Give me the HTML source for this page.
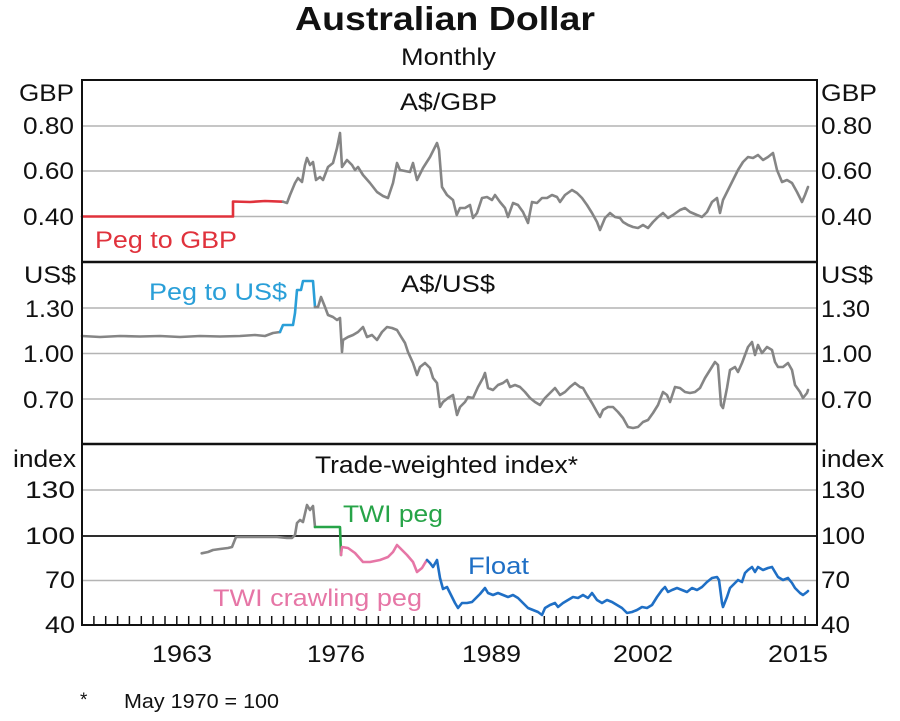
<!DOCTYPE html>
<html><head><meta charset="utf-8"><style>
html,body{margin:0;padding:0;background:#fff;}
svg{display:block;}
text{font-family:"Liberation Sans",Arial,sans-serif;fill:#111;}
</style></head><body>
<svg width="900" height="721" viewBox="0 0 900 721" xmlns="http://www.w3.org/2000/svg">
<rect x="0" y="0" width="900" height="721" fill="#fff"/>
<!-- gridlines -->
<g stroke="#b4b4b4" stroke-width="1.5">
<line x1="82" y1="126" x2="817" y2="126"/>
<line x1="82" y1="171" x2="817" y2="171"/>
<line x1="82" y1="216.5" x2="817" y2="216.5"/>
<line x1="82" y1="308" x2="817" y2="308"/>
<line x1="82" y1="353.5" x2="817" y2="353.5"/>
<line x1="82" y1="399" x2="817" y2="399"/>
<line x1="82" y1="490" x2="817" y2="490"/>
<line x1="82" y1="580.5" x2="817" y2="580.5"/>
</g>
<line x1="82" y1="536" x2="817" y2="536" stroke="#111" stroke-width="1.8"/>
<!-- ticks -->
<g stroke="#111" stroke-width="1.5" id="ticks">
<line x1="93.9" y1="616" x2="93.9" y2="625"/><line x1="105.7" y1="616" x2="105.7" y2="625"/><line x1="117.6" y1="616" x2="117.6" y2="625"/><line x1="129.4" y1="616" x2="129.4" y2="625"/><line x1="141.3" y1="616" x2="141.3" y2="625"/><line x1="153.1" y1="616" x2="153.1" y2="625"/><line x1="165" y1="616" x2="165" y2="625"/><line x1="176.8" y1="616" x2="176.8" y2="625"/><line x1="188.7" y1="616" x2="188.7" y2="625"/><line x1="200.5" y1="616" x2="200.5" y2="625"/><line x1="212.4" y1="616" x2="212.4" y2="625"/><line x1="224.3" y1="616" x2="224.3" y2="625"/><line x1="236.1" y1="616" x2="236.1" y2="625"/><line x1="248" y1="616" x2="248" y2="625"/><line x1="259.8" y1="616" x2="259.8" y2="625"/><line x1="271.7" y1="616" x2="271.7" y2="625"/><line x1="283.5" y1="616" x2="283.5" y2="625"/><line x1="295.4" y1="616" x2="295.4" y2="625"/><line x1="307.2" y1="616" x2="307.2" y2="625"/><line x1="319.1" y1="616" x2="319.1" y2="625"/><line x1="331" y1="616" x2="331" y2="625"/><line x1="342.8" y1="616" x2="342.8" y2="625"/><line x1="354.7" y1="616" x2="354.7" y2="625"/><line x1="366.5" y1="616" x2="366.5" y2="625"/><line x1="378.4" y1="616" x2="378.4" y2="625"/><line x1="390.2" y1="616" x2="390.2" y2="625"/><line x1="402.1" y1="616" x2="402.1" y2="625"/><line x1="413.9" y1="616" x2="413.9" y2="625"/><line x1="425.8" y1="616" x2="425.8" y2="625"/><line x1="437.6" y1="616" x2="437.6" y2="625"/><line x1="449.5" y1="616" x2="449.5" y2="625"/><line x1="461.4" y1="616" x2="461.4" y2="625"/><line x1="473.2" y1="616" x2="473.2" y2="625"/><line x1="485.1" y1="616" x2="485.1" y2="625"/><line x1="496.9" y1="616" x2="496.9" y2="625"/><line x1="508.8" y1="616" x2="508.8" y2="625"/><line x1="520.6" y1="616" x2="520.6" y2="625"/><line x1="532.5" y1="616" x2="532.5" y2="625"/><line x1="544.3" y1="616" x2="544.3" y2="625"/><line x1="556.2" y1="616" x2="556.2" y2="625"/><line x1="568" y1="616" x2="568" y2="625"/><line x1="579.9" y1="616" x2="579.9" y2="625"/><line x1="591.8" y1="616" x2="591.8" y2="625"/><line x1="603.6" y1="616" x2="603.6" y2="625"/><line x1="615.5" y1="616" x2="615.5" y2="625"/><line x1="627.3" y1="616" x2="627.3" y2="625"/><line x1="639.2" y1="616" x2="639.2" y2="625"/><line x1="651" y1="616" x2="651" y2="625"/><line x1="662.9" y1="616" x2="662.9" y2="625"/><line x1="674.7" y1="616" x2="674.7" y2="625"/><line x1="686.6" y1="616" x2="686.6" y2="625"/><line x1="698.4" y1="616" x2="698.4" y2="625"/><line x1="710.3" y1="616" x2="710.3" y2="625"/><line x1="722.2" y1="616" x2="722.2" y2="625"/><line x1="734" y1="616" x2="734" y2="625"/><line x1="745.9" y1="616" x2="745.9" y2="625"/><line x1="757.7" y1="616" x2="757.7" y2="625"/><line x1="769.6" y1="616" x2="769.6" y2="625"/><line x1="781.4" y1="616" x2="781.4" y2="625"/><line x1="793.3" y1="616" x2="793.3" y2="625"/><line x1="805.1" y1="616" x2="805.1" y2="625"/>
</g>
<!-- series -->
<g fill="none" stroke-width="2.6" stroke-linejoin="round" stroke-linecap="round">
<!-- panel 1 -->
<polyline stroke="#e0323c" points="82,216.5 233,216.5 233,201.5 250,202 265,201 283,201.7"/>
<polyline stroke="#858585" points="283,201.7 287,203 290,195 295,183 298,178 302,182 305,165 307,158 310,165 313,162 316,180 320,177 323,180 328,167 333,163 337,148 340,133 342,167 347,160 352,165 355,170 358,167 363,175 370,183 377,192 383,196 388,198 393,183 397,163 400,170 410,172 413,163 417,180 423,168 430,157 435,147 437,143 439,150 442,187 447,195 453,200 456.7,215 460,208 465,208 470,205 473,218 477,213 482,198 487,197 492,200 495,195 500,202 505,208 508,217 513,203 518,205 523,212 528,223 532,202 537,203 542,198 547,198 552,195 557,197 560,202 565,195 572,190 577,193 582,198 587,205 592,213 597,222 600,230 605,218 610,213 615,217 620,218 623,222 628,225 633,227 638,228 643,225 648,228 653,222 658,217 663,213 668,218 673,215 680,210 685,208 690,212 697,215 702,217 707,212 712,202 717,198 720,213 723,200 728,190 733,180 738,170 743,162 748,157 753,158 758,155 763,160 768,157 773,153 777,170 782,182 787,180 792,183 797,192 802,202 805,195 808,187"/>
<!-- panel 2 -->
<polyline stroke="#858585" points="82,336 100,337 120,336 140,336.5 160,336 180,337 200,336 220,336.5 240,336 255,335 265,336 273,333 280,332"/>
<polyline stroke="#2a9fd8" points="280,332 283,325 293,325 295,313 297,290 301,290 303,281 313,281 315,307"/>
<polyline stroke="#858585" points="315,307 318,307 321,297 325,307 328,315 333,317 337,320 340,318 342,352 343,340 348,337 353,335 358,332 363,327 367,337 372,335 377,340 382,332 387,327 392,328 397,330 400,335 405,343 408,352 413,363 417,375 420,367 425,363 430,368 433,378 437,383 440,407 443,402 448,398 453,395 457,415 460,407 465,402 468,397 473,398 478,387 483,378 485,373 488,388 493,390 498,385 503,383 507,380 510,387 515,385 520,387 525,392 530,398 535,402 540,405 545,398 550,393 555,388 560,395 565,392 570,387 575,383 580,387 583,388 587,395 592,403 597,412 600,417 603,410 608,407 613,407 618,412 623,418 628,427 633,428 638,427 643,422 648,420 653,413 658,405 663,392 667,395 670,402 675,387 680,388 685,392 690,393 695,392 700,388 705,378 710,370 715,362 718,365 721,405 723,408 727,388 730,370 735,367 738,372 742,363 745,355 748,347 752,342 755,355 758,345 762,353 767,347 772,350 775,362 778,367 783,367 788,363 792,370 795,385 800,392 803,398 807,393 808,390"/>
<!-- panel 3 -->
<polyline stroke="#858585" points="201.7,553.3 208,552 213,550 220,549 228,548 232,547 236,537 247,537 257,537 267,537 277,537 287,538 292,538 295,535 297,523 300,520 303,522 307,505 310,510 313,506 315,527"/>
<polyline stroke="#27a448" points="315,527 340,527 341,555"/>
<polyline stroke="#e676a6" points="341,555 342,547 348,548 355,553 363,562 370,562 380,560 388,557 393,552 397,545 402,550 407,555 413,562 417,572 422,568 425,563 427,560"/>
<polyline stroke="#1f6fc5" points="427,560 430,563 433,567 437,560 440,578 443,589 447,587 450,593 455,603 458,608 462,603 467,603 472,602 475,599 480,594 485,588 488,593 493,595 498,593 503,595 508,597 513,595 518,598 523,603 528,608 533,610 538,612 542,615 545,608 550,605 555,603 558,607 563,603 568,600 573,597 578,598 583,595 588,598 592,593 597,600 602,603 607,600 612,602 617,605 622,608 627,613 632,612 637,610 642,607 647,608 652,605 657,597 662,590 665,587 668,592 672,590 677,588 682,590 687,592 692,588 697,590 702,587 707,582 712,578 717,577 719,580 722,603 723,607 727,597 730,588 735,583 738,580 742,582 745,573 748,570 752,567 755,572 758,567 763,570 768,568 772,567 775,572 778,577 783,580 788,578 792,583 795,588 800,593 803,595 807,592 808,591"/>
</g>
<!-- frame -->
<rect x="82" y="80" width="735" height="545" fill="none" stroke="#111" stroke-width="2"/>
<line x1="82" y1="262" x2="817" y2="262" stroke="#111" stroke-width="2.5"/>
<line x1="82" y1="444" x2="817" y2="444" stroke="#111" stroke-width="2.5"/>

<!-- texts -->
<text x="295" y="30" font-size="33" font-weight="bold" textLength="300" lengthAdjust="spacingAndGlyphs">Australian Dollar</text>
<text x="401" y="65" font-size="24" textLength="95" lengthAdjust="spacingAndGlyphs">Monthly</text>

<g font-size="24">
<text x="19" y="101" textLength="55" lengthAdjust="spacingAndGlyphs">GBP</text>
<text x="74" y="134" text-anchor="end" textLength="51" lengthAdjust="spacingAndGlyphs">0.80</text>
<text x="74" y="179" text-anchor="end" textLength="51" lengthAdjust="spacingAndGlyphs">0.60</text>
<text x="74" y="225" text-anchor="end" textLength="51" lengthAdjust="spacingAndGlyphs">0.40</text>
<text x="821" y="101" textLength="56" lengthAdjust="spacingAndGlyphs">GBP</text>
<text x="821" y="134" textLength="51" lengthAdjust="spacingAndGlyphs">0.80</text>
<text x="821" y="179" textLength="51" lengthAdjust="spacingAndGlyphs">0.60</text>
<text x="821" y="225" textLength="51" lengthAdjust="spacingAndGlyphs">0.40</text>
<text x="400" y="110" textLength="97" lengthAdjust="spacingAndGlyphs">A$/GBP</text>
<text x="95" y="248" textLength="142" lengthAdjust="spacingAndGlyphs" style="fill:#e0323c">Peg to GBP</text>

<text x="24" y="283" textLength="52" lengthAdjust="spacingAndGlyphs">US$</text>
<text x="74" y="317" text-anchor="end" textLength="49" lengthAdjust="spacingAndGlyphs">1.30</text>
<text x="74" y="362" text-anchor="end" textLength="51" lengthAdjust="spacingAndGlyphs">1.00</text>
<text x="74" y="408" text-anchor="end" textLength="51" lengthAdjust="spacingAndGlyphs">0.70</text>
<text x="821" y="283" textLength="52" lengthAdjust="spacingAndGlyphs">US$</text>
<text x="821" y="317" textLength="49" lengthAdjust="spacingAndGlyphs">1.30</text>
<text x="821" y="362" textLength="51" lengthAdjust="spacingAndGlyphs">1.00</text>
<text x="821" y="408" textLength="51" lengthAdjust="spacingAndGlyphs">0.70</text>
<text x="401" y="292" textLength="94" lengthAdjust="spacingAndGlyphs">A$/US$</text>
<text x="149" y="300" textLength="138" lengthAdjust="spacingAndGlyphs" style="fill:#2a9fd8">Peg to US$</text>

<text x="13" y="467" textLength="63" lengthAdjust="spacingAndGlyphs">index</text>
<text x="75" y="498" text-anchor="end" textLength="50" lengthAdjust="spacingAndGlyphs">130</text>
<text x="75" y="544" text-anchor="end" textLength="50" lengthAdjust="spacingAndGlyphs">100</text>
<text x="75" y="588" text-anchor="end" textLength="30" lengthAdjust="spacingAndGlyphs">70</text>
<text x="75" y="633" text-anchor="end" textLength="30" lengthAdjust="spacingAndGlyphs">40</text>
<text x="821" y="467" textLength="63" lengthAdjust="spacingAndGlyphs">index</text>
<text x="821" y="498" textLength="44" lengthAdjust="spacingAndGlyphs">130</text>
<text x="821" y="544" textLength="44" lengthAdjust="spacingAndGlyphs">100</text>
<text x="821" y="588" textLength="29" lengthAdjust="spacingAndGlyphs">70</text>
<text x="821" y="633" textLength="29" lengthAdjust="spacingAndGlyphs">40</text>
<text x="315" y="473" textLength="263" lengthAdjust="spacingAndGlyphs">Trade-weighted index*</text>
<text x="343" y="522" textLength="100" lengthAdjust="spacingAndGlyphs" style="fill:#27a448">TWI peg</text>
<text x="213" y="606" textLength="209" lengthAdjust="spacingAndGlyphs" style="fill:#e676a6">TWI crawling peg</text>
<text x="468" y="574" textLength="61" lengthAdjust="spacingAndGlyphs" style="fill:#1f6fc5">Float</text>

<text x="152" y="662" textLength="60" lengthAdjust="spacingAndGlyphs">1963</text>
<text x="307" y="662" textLength="58" lengthAdjust="spacingAndGlyphs">1976</text>
<text x="462" y="662" textLength="59" lengthAdjust="spacingAndGlyphs">1989</text>
<text x="613" y="662" textLength="60" lengthAdjust="spacingAndGlyphs">2002</text>
<text x="768" y="662" textLength="60" lengthAdjust="spacingAndGlyphs">2015</text>
</g>
<text x="80" y="706" font-size="19">*</text>
<text x="124" y="708" font-size="20" textLength="155" lengthAdjust="spacingAndGlyphs">May 1970 = 100</text>
</svg>
</body></html>
